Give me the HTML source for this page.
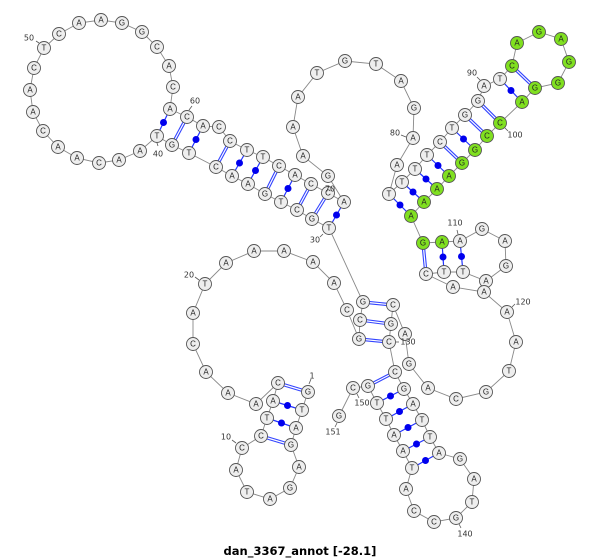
<!DOCTYPE html>
<html><head><meta charset="utf-8"><style>
html,body{margin:0;padding:0;background:#fff;}
svg{display:block;}
.n circle{fill:#eeeeee;stroke:#555;stroke-width:0.9;}
.n circle.g{fill:#80e020;}
.n text{font-family:"Liberation Sans",sans-serif;font-size:8px;fill:#222;text-anchor:middle;dominant-baseline:central;}
.lb{font-family:"DejaVu Sans","Liberation Sans",sans-serif;font-size:8px;fill:#333;text-anchor:middle;dominant-baseline:central;}
.tk{stroke:#555;stroke-width:0.8;}
.s{stroke:#2233ff;stroke-width:1.2;}
.d1{stroke:#3344ff;stroke-width:3.4;}
.d2{stroke:#fff;stroke-width:1.2;}
.dot{fill:#0000ee;}
</style></head><body>
<svg width="600" height="560" viewBox="0 0 600 560" xmlns="http://www.w3.org/2000/svg">
<polyline fill="none" stroke="#888" stroke-width="0.9" points="308,392 302,410 296,428 291,445 299,467 290,488 270,499 247,492 236,470 242,448 261,436 267,418 273,401 278,383 256,404 228,393 206,372 193,344 193,313 205,284 226,263 254,251 284,251 313,262 334,283 347,310 359,339 360,320 363,302 329,228 312,219 297,210 281,202 265,194 248,184 232,176 216,167 189,153 172,145 157,136 140,151 119,160 99,163 77,158 58,147 43,131 33,112 30,90 34,68 44,48 59,34 79,23 101,20 122,23 142,32 157,47 169,66 173,87 170,109 187,117 203,126 219,127 230,141 247,150 263,157 279,166 295,175 311,184 328,193 344,202 328,176 303,156 293,127 298,97 317,73 345,61 376,64 401,81 414,108 413,138 397,165 389,194 402,182 415,169 427,155 440,142 452,128 465,115 478,101 484,86 500,79 512,66 517,43 539,32 561,39 569,62 558,83 535,88 522,102 500,123 487,136 475,150 462,163 449,176 437,189 424,202 411,216 423,243 442,242 460,241 482,229 505,241 506,266 486,281 463,272 444,272 426,274 453,287 484,292 507,312 516,342 509,371 486,392 456,399 428,388 409,364 405,334 393,305 391,324 389,342 395,372 404,389 413,404 422,420 430,437 439,453 460,459 474,479 472,502 456,518 434,522 414,511 406,489 412,468 403,451 394,435 386,419 377,403 368,386 353,388 339,416"/>
<g>
<line class="d1" x1="308" y1="392" x2="278" y2="383"/><line class="d2" x1="308" y1="392" x2="278" y2="383"/>
<line class="d1" x1="291" y1="445" x2="261" y2="436"/><line class="d2" x1="291" y1="445" x2="261" y2="436"/>
<line class="d1" x1="359" y1="339" x2="389" y2="342"/><line class="d2" x1="359" y1="339" x2="389" y2="342"/>
<line class="d1" x1="360" y1="320" x2="391" y2="324"/><line class="d2" x1="360" y1="320" x2="391" y2="324"/>
<line class="d1" x1="363" y1="302" x2="393" y2="305"/><line class="d2" x1="363" y1="302" x2="393" y2="305"/>
<line class="d1" x1="312" y1="219" x2="328" y2="193"/><line class="d2" x1="312" y1="219" x2="328" y2="193"/>
<line class="d1" x1="297" y1="210" x2="311" y2="184"/><line class="d2" x1="297" y1="210" x2="311" y2="184"/>
<line class="d1" x1="265" y1="194" x2="279" y2="166"/><line class="d2" x1="265" y1="194" x2="279" y2="166"/>
<line class="d1" x1="216" y1="167" x2="230" y2="141"/><line class="d2" x1="216" y1="167" x2="230" y2="141"/>
<line class="d1" x1="172" y1="145" x2="187" y2="117"/><line class="d2" x1="172" y1="145" x2="187" y2="117"/>
<line class="d1" x1="440" y1="142" x2="462" y2="163"/><line class="d2" x1="440" y1="142" x2="462" y2="163"/>
<line class="d1" x1="465" y1="115" x2="487" y2="136"/><line class="d2" x1="465" y1="115" x2="487" y2="136"/>
<line class="d1" x1="478" y1="101" x2="500" y2="123"/><line class="d2" x1="478" y1="101" x2="500" y2="123"/>
<line class="d1" x1="512" y1="66" x2="535" y2="88"/><line class="d2" x1="512" y1="66" x2="535" y2="88"/>
<line class="d1" x1="423" y1="243" x2="426" y2="274"/><line class="d2" x1="423" y1="243" x2="426" y2="274"/>
<line class="d1" x1="395" y1="372" x2="368" y2="386"/><line class="d2" x1="395" y1="372" x2="368" y2="386"/>

<line class="s" x1="302" y1="410" x2="273" y2="401"/><circle class="dot" cx="287.5" cy="405.5" r="3.5"/>
<line class="s" x1="296" y1="428" x2="267" y2="418"/><circle class="dot" cx="281.5" cy="423" r="3.5"/>
<line class="s" x1="329" y1="228" x2="344" y2="202"/><circle class="dot" cx="336.5" cy="215" r="3.5"/>
<line class="s" x1="281" y1="202" x2="295" y2="175"/><circle class="dot" cx="288" cy="188.5" r="3.5"/>
<line class="s" x1="248" y1="184" x2="263" y2="157"/><circle class="dot" cx="255.5" cy="170.5" r="3.5"/>
<line class="s" x1="232" y1="176" x2="247" y2="150"/><circle class="dot" cx="239.5" cy="163" r="3.5"/>
<line class="s" x1="189" y1="153" x2="203" y2="126"/><circle class="dot" cx="196" cy="139.5" r="3.5"/>
<line class="s" x1="157" y1="136" x2="170" y2="109"/><circle class="dot" cx="163.5" cy="122.5" r="3.5"/>
<line class="s" x1="389" y1="194" x2="411" y2="216"/><circle class="dot" cx="400" cy="205" r="3.5"/>
<line class="s" x1="402" y1="182" x2="424" y2="202"/><circle class="dot" cx="413" cy="192" r="3.5"/>
<line class="s" x1="415" y1="169" x2="437" y2="189"/><circle class="dot" cx="426" cy="179" r="3.5"/>
<line class="s" x1="427" y1="155" x2="449" y2="176"/><circle class="dot" cx="438" cy="165.5" r="3.5"/>
<line class="s" x1="452" y1="128" x2="475" y2="150"/><circle class="dot" cx="463.5" cy="139" r="3.5"/>
<line class="s" x1="500" y1="79" x2="522" y2="102"/><circle class="dot" cx="511" cy="90.5" r="3.5"/>
<line class="s" x1="442" y1="242" x2="444" y2="272"/><circle class="dot" cx="443" cy="257" r="3.5"/>
<line class="s" x1="460" y1="241" x2="463" y2="272"/><circle class="dot" cx="461.5" cy="256.5" r="3.5"/>
<line class="s" x1="404" y1="389" x2="377" y2="403"/><circle class="dot" cx="390.5" cy="396" r="3.5"/>
<line class="s" x1="413" y1="404" x2="386" y2="419"/><circle class="dot" cx="399.5" cy="411.5" r="3.5"/>
<line class="s" x1="422" y1="420" x2="394" y2="435"/><circle class="dot" cx="408" cy="427.5" r="3.5"/>
<line class="s" x1="430" y1="437" x2="403" y2="451"/><circle class="dot" cx="416.5" cy="444" r="3.5"/>
<line class="s" x1="439" y1="453" x2="412" y2="468"/><circle class="dot" cx="425.5" cy="460.5" r="3.5"/>
</g>
<g class="n">
<circle cx="308" cy="392" r="6.5"/><text x="308" y="392">G</text>
<circle cx="302" cy="410" r="6.5"/><text x="302" y="410">T</text>
<circle cx="296" cy="428" r="6.5"/><text x="296" y="428">A</text>
<circle cx="291" cy="445" r="6.5"/><text x="291" y="445">G</text>
<circle cx="299" cy="467" r="6.5"/><text x="299" y="467">A</text>
<circle cx="290" cy="488" r="6.5"/><text x="290" y="488">G</text>
<circle cx="270" cy="499" r="6.5"/><text x="270" y="499">A</text>
<circle cx="247" cy="492" r="6.5"/><text x="247" y="492">T</text>
<circle cx="236" cy="470" r="6.5"/><text x="236" y="470">A</text>
<circle cx="242" cy="448" r="6.5"/><text x="242" y="448">C</text>
<circle cx="261" cy="436" r="6.5"/><text x="261" y="436">C</text>
<circle cx="267" cy="418" r="6.5"/><text x="267" y="418">T</text>
<circle cx="273" cy="401" r="6.5"/><text x="273" y="401">A</text>
<circle cx="278" cy="383" r="6.5"/><text x="278" y="383">C</text>
<circle cx="256" cy="404" r="6.5"/><text x="256" y="404">A</text>
<circle cx="228" cy="393" r="6.5"/><text x="228" y="393">A</text>
<circle cx="206" cy="372" r="6.5"/><text x="206" y="372">A</text>
<circle cx="193" cy="344" r="6.5"/><text x="193" y="344">C</text>
<circle cx="193" cy="313" r="6.5"/><text x="193" y="313">A</text>
<circle cx="205" cy="284" r="6.5"/><text x="205" y="284">T</text>
<circle cx="226" cy="263" r="6.5"/><text x="226" y="263">A</text>
<circle cx="254" cy="251" r="6.5"/><text x="254" y="251">A</text>
<circle cx="284" cy="251" r="6.5"/><text x="284" y="251">A</text>
<circle cx="313" cy="262" r="6.5"/><text x="313" y="262">A</text>
<circle cx="334" cy="283" r="6.5"/><text x="334" y="283">A</text>
<circle cx="347" cy="310" r="6.5"/><text x="347" y="310">C</text>
<circle cx="359" cy="339" r="6.5"/><text x="359" y="339">G</text>
<circle cx="360" cy="320" r="6.5"/><text x="360" y="320">C</text>
<circle cx="363" cy="302" r="6.5"/><text x="363" y="302">G</text>
<circle cx="329" cy="228" r="6.5"/><text x="329" y="228">T</text>
<circle cx="312" cy="219" r="6.5"/><text x="312" y="219">G</text>
<circle cx="297" cy="210" r="6.5"/><text x="297" y="210">C</text>
<circle cx="281" cy="202" r="6.5"/><text x="281" y="202">T</text>
<circle cx="265" cy="194" r="6.5"/><text x="265" y="194">G</text>
<circle cx="248" cy="184" r="6.5"/><text x="248" y="184">A</text>
<circle cx="232" cy="176" r="6.5"/><text x="232" y="176">A</text>
<circle cx="216" cy="167" r="6.5"/><text x="216" y="167">C</text>
<circle cx="189" cy="153" r="6.5"/><text x="189" y="153">T</text>
<circle cx="172" cy="145" r="6.5"/><text x="172" y="145">G</text>
<circle cx="157" cy="136" r="6.5"/><text x="157" y="136">T</text>
<circle cx="140" cy="151" r="6.5"/><text x="140" y="151">A</text>
<circle cx="119" cy="160" r="6.5"/><text x="119" y="160">A</text>
<circle cx="99" cy="163" r="6.5"/><text x="99" y="163">C</text>
<circle cx="77" cy="158" r="6.5"/><text x="77" y="158">A</text>
<circle cx="58" cy="147" r="6.5"/><text x="58" y="147">A</text>
<circle cx="43" cy="131" r="6.5"/><text x="43" y="131">C</text>
<circle cx="33" cy="112" r="6.5"/><text x="33" y="112">A</text>
<circle cx="30" cy="90" r="6.5"/><text x="30" y="90">A</text>
<circle cx="34" cy="68" r="6.5"/><text x="34" y="68">C</text>
<circle cx="44" cy="48" r="6.5"/><text x="44" y="48">T</text>
<circle cx="59" cy="34" r="6.5"/><text x="59" y="34">C</text>
<circle cx="79" cy="23" r="6.5"/><text x="79" y="23">A</text>
<circle cx="101" cy="20" r="6.5"/><text x="101" y="20">A</text>
<circle cx="122" cy="23" r="6.5"/><text x="122" y="23">G</text>
<circle cx="142" cy="32" r="6.5"/><text x="142" y="32">G</text>
<circle cx="157" cy="47" r="6.5"/><text x="157" y="47">C</text>
<circle cx="169" cy="66" r="6.5"/><text x="169" y="66">A</text>
<circle cx="173" cy="87" r="6.5"/><text x="173" y="87">C</text>
<circle cx="170" cy="109" r="6.5"/><text x="170" y="109">A</text>
<circle cx="187" cy="117" r="6.5"/><text x="187" y="117">C</text>
<circle cx="203" cy="126" r="6.5"/><text x="203" y="126">A</text>
<circle cx="219" cy="127" r="6.5"/><text x="219" y="127">C</text>
<circle cx="230" cy="141" r="6.5"/><text x="230" y="141">C</text>
<circle cx="247" cy="150" r="6.5"/><text x="247" y="150">T</text>
<circle cx="263" cy="157" r="6.5"/><text x="263" y="157">T</text>
<circle cx="279" cy="166" r="6.5"/><text x="279" y="166">C</text>
<circle cx="295" cy="175" r="6.5"/><text x="295" y="175">A</text>
<circle cx="311" cy="184" r="6.5"/><text x="311" y="184">C</text>
<circle cx="328" cy="193" r="6.5"/><text x="328" y="193">C</text>
<circle cx="344" cy="202" r="6.5"/><text x="344" y="202">A</text>
<circle cx="328" cy="176" r="6.5"/><text x="328" y="176">G</text>
<circle cx="303" cy="156" r="6.5"/><text x="303" y="156">A</text>
<circle cx="293" cy="127" r="6.5"/><text x="293" y="127">A</text>
<circle cx="298" cy="97" r="6.5"/><text x="298" y="97">A</text>
<circle cx="317" cy="73" r="6.5"/><text x="317" y="73">T</text>
<circle cx="345" cy="61" r="6.5"/><text x="345" y="61">G</text>
<circle cx="376" cy="64" r="6.5"/><text x="376" y="64">T</text>
<circle cx="401" cy="81" r="6.5"/><text x="401" y="81">A</text>
<circle cx="414" cy="108" r="6.5"/><text x="414" y="108">G</text>
<circle cx="413" cy="138" r="6.5"/><text x="413" y="138">A</text>
<circle cx="397" cy="165" r="6.5"/><text x="397" y="165">A</text>
<circle cx="389" cy="194" r="6.5"/><text x="389" y="194">T</text>
<circle cx="402" cy="182" r="6.5"/><text x="402" y="182">T</text>
<circle cx="415" cy="169" r="6.5"/><text x="415" y="169">T</text>
<circle cx="427" cy="155" r="6.5"/><text x="427" y="155">T</text>
<circle cx="440" cy="142" r="6.5"/><text x="440" y="142">C</text>
<circle cx="452" cy="128" r="6.5"/><text x="452" y="128">T</text>
<circle cx="465" cy="115" r="6.5"/><text x="465" y="115">G</text>
<circle cx="478" cy="101" r="6.5"/><text x="478" y="101">G</text>
<circle cx="484" cy="86" r="6.5"/><text x="484" y="86">A</text>
<circle cx="500" cy="79" r="6.5"/><text x="500" y="79">T</text>
<circle class="g" cx="512" cy="66" r="6.5"/><text x="512" y="66">C</text>
<circle class="g" cx="517" cy="43" r="6.5"/><text x="517" y="43">A</text>
<circle class="g" cx="539" cy="32" r="6.5"/><text x="539" y="32">G</text>
<circle class="g" cx="561" cy="39" r="6.5"/><text x="561" y="39">A</text>
<circle class="g" cx="569" cy="62" r="6.5"/><text x="569" y="62">G</text>
<circle class="g" cx="558" cy="83" r="6.5"/><text x="558" y="83">G</text>
<circle class="g" cx="535" cy="88" r="6.5"/><text x="535" y="88">G</text>
<circle class="g" cx="522" cy="102" r="6.5"/><text x="522" y="102">A</text>
<circle class="g" cx="500" cy="123" r="6.5"/><text x="500" y="123">C</text>
<circle class="g" cx="487" cy="136" r="6.5"/><text x="487" y="136">C</text>
<circle class="g" cx="475" cy="150" r="6.5"/><text x="475" y="150">G</text>
<circle class="g" cx="462" cy="163" r="6.5"/><text x="462" y="163">G</text>
<circle class="g" cx="449" cy="176" r="6.5"/><text x="449" y="176">A</text>
<circle class="g" cx="437" cy="189" r="6.5"/><text x="437" y="189">A</text>
<circle class="g" cx="424" cy="202" r="6.5"/><text x="424" y="202">A</text>
<circle class="g" cx="411" cy="216" r="6.5"/><text x="411" y="216">A</text>
<circle class="g" cx="423" cy="243" r="6.5"/><text x="423" y="243">G</text>
<circle class="g" cx="442" cy="242" r="6.5"/><text x="442" y="242">A</text>
<circle cx="460" cy="241" r="6.5"/><text x="460" y="241">A</text>
<circle cx="482" cy="229" r="6.5"/><text x="482" y="229">G</text>
<circle cx="505" cy="241" r="6.5"/><text x="505" y="241">A</text>
<circle cx="506" cy="266" r="6.5"/><text x="506" y="266">G</text>
<circle cx="486" cy="281" r="6.5"/><text x="486" y="281">A</text>
<circle cx="463" cy="272" r="6.5"/><text x="463" y="272">T</text>
<circle cx="444" cy="272" r="6.5"/><text x="444" y="272">T</text>
<circle cx="426" cy="274" r="6.5"/><text x="426" y="274">C</text>
<circle cx="453" cy="287" r="6.5"/><text x="453" y="287">A</text>
<circle cx="484" cy="292" r="6.5"/><text x="484" y="292">A</text>
<circle cx="507" cy="312" r="6.5"/><text x="507" y="312">A</text>
<circle cx="516" cy="342" r="6.5"/><text x="516" y="342">A</text>
<circle cx="509" cy="371" r="6.5"/><text x="509" y="371">T</text>
<circle cx="486" cy="392" r="6.5"/><text x="486" y="392">G</text>
<circle cx="456" cy="399" r="6.5"/><text x="456" y="399">C</text>
<circle cx="428" cy="388" r="6.5"/><text x="428" y="388">A</text>
<circle cx="409" cy="364" r="6.5"/><text x="409" y="364">G</text>
<circle cx="405" cy="334" r="6.5"/><text x="405" y="334">A</text>
<circle cx="393" cy="305" r="6.5"/><text x="393" y="305">C</text>
<circle cx="391" cy="324" r="6.5"/><text x="391" y="324">G</text>
<circle cx="389" cy="342" r="6.5"/><text x="389" y="342">C</text>
<circle cx="395" cy="372" r="6.5"/><text x="395" y="372">C</text>
<circle cx="404" cy="389" r="6.5"/><text x="404" y="389">G</text>
<circle cx="413" cy="404" r="6.5"/><text x="413" y="404">A</text>
<circle cx="422" cy="420" r="6.5"/><text x="422" y="420">T</text>
<circle cx="430" cy="437" r="6.5"/><text x="430" y="437">T</text>
<circle cx="439" cy="453" r="6.5"/><text x="439" y="453">A</text>
<circle cx="460" cy="459" r="6.5"/><text x="460" y="459">G</text>
<circle cx="474" cy="479" r="6.5"/><text x="474" y="479">A</text>
<circle cx="472" cy="502" r="6.5"/><text x="472" y="502">T</text>
<circle cx="456" cy="518" r="6.5"/><text x="456" y="518">G</text>
<circle cx="434" cy="522" r="6.5"/><text x="434" y="522">C</text>
<circle cx="414" cy="511" r="6.5"/><text x="414" y="511">C</text>
<circle cx="406" cy="489" r="6.5"/><text x="406" y="489">A</text>
<circle cx="412" cy="468" r="6.5"/><text x="412" y="468">T</text>
<circle cx="403" cy="451" r="6.5"/><text x="403" y="451">A</text>
<circle cx="394" cy="435" r="6.5"/><text x="394" y="435">A</text>
<circle cx="386" cy="419" r="6.5"/><text x="386" y="419">T</text>
<circle cx="377" cy="403" r="6.5"/><text x="377" y="403">T</text>
<circle cx="368" cy="386" r="6.5"/><text x="368" y="386">G</text>
<circle cx="353" cy="388" r="6.5"/><text x="353" y="388">C</text>
<circle cx="339" cy="416" r="6.5"/><text x="339" y="416">G</text>
</g>
<g>
<line class="tk" x1="309" y1="384" x2="311" y2="379"/><text class="lb" x="312" y="376">1</text>
<line class="tk" x1="236" y1="443" x2="232" y2="440"/><text class="lb" x="226" y="437">10</text>
<line class="tk" x1="199" y1="280" x2="195" y2="277"/><text class="lb" x="189" y="275">20</text>
<line class="tk" x1="323" y1="234" x2="320" y2="237"/><text class="lb" x="315" y="240">30</text>
<line class="tk" x1="157" y1="143" x2="158" y2="146"/><text class="lb" x="158" y="154">40</text>
<line class="tk" x1="39" y1="43" x2="36" y2="41"/><text class="lb" x="29" y="38">50</text>
<line class="tk" x1="189" y1="110" x2="192" y2="106"/><text class="lb" x="195" y="101">60</text>
<text class="lb" x="330" y="189">70</text>
<line class="tk" x1="406" y1="137" x2="401" y2="135"/><text class="lb" x="395" y="133">80</text>
<line class="tk" x1="480" y1="80" x2="477" y2="77"/><text class="lb" x="472" y="73">90</text>
<line class="tk" x1="505" y1="128" x2="508" y2="131"/><text class="lb" x="515" y="135">100</text>
<line class="tk" x1="458" y1="234" x2="457" y2="230"/><text class="lb" x="455" y="223">110</text>
<line class="tk" x1="512" y1="307" x2="515" y2="304"/><text class="lb" x="523" y="302">120</text>
<line class="tk" x1="396" y1="342" x2="399" y2="342"/><text class="lb" x="408" y="342">130</text>
<line class="tk" x1="459" y1="524" x2="461" y2="528"/><text class="lb" x="465" y="534">140</text>
<line class="tk" x1="357" y1="394" x2="359" y2="398"/><text class="lb" x="362" y="403">150</text>
<line class="tk" x1="337" y1="423" x2="335" y2="427"/><text class="lb" x="333" y="432">151</text>
</g>
<text x="300" y="551" font-family="'DejaVu Sans','Liberation Sans',sans-serif" font-size="11.5" font-weight="bold" text-anchor="middle" dominant-baseline="central" fill="#000">dan_3367_annot [-28.1]</text>
</svg>
</body></html>
